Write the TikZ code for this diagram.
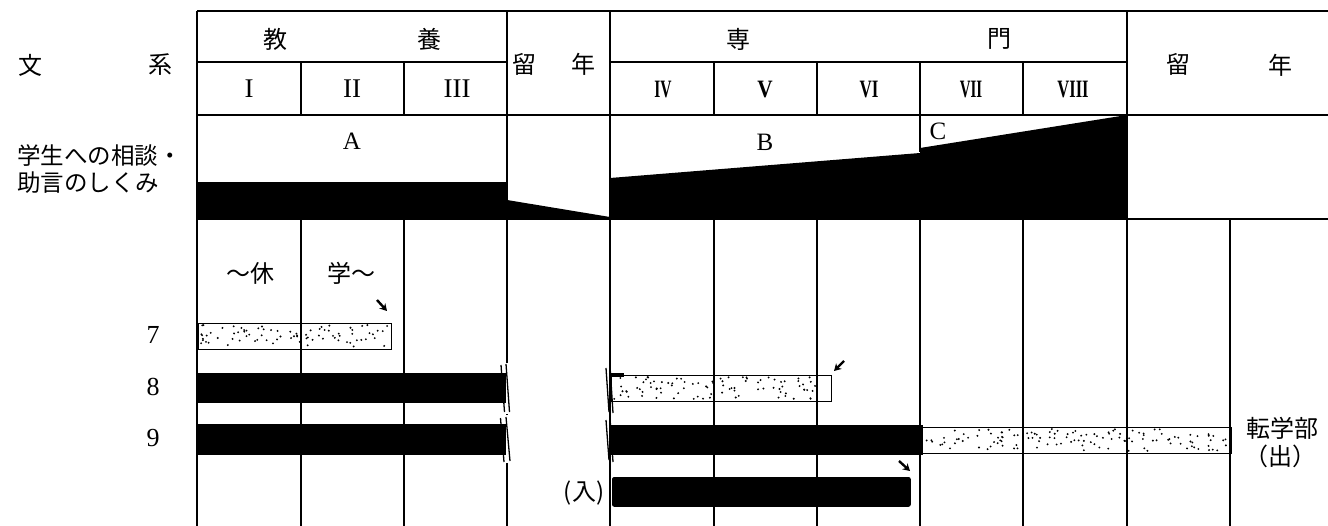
\documentclass[tikz,border=0pt]{standalone}
\usepackage{fontspec}
\setmainfont{Liberation Serif}
\newfontfamily\jp{Noto Sans CJK JP}
\usetikzlibrary{arrows.meta}
\newcommand\speckle[5]{\foreach \k in {1,...,#5}{\fill ({#1+2+rnd*(#3-#1-4)},{#2+2+rnd*(#4-#2-4)}) circle (1.05);}}
\begin{document}
\begin{tikzpicture}[x=1pt,y=-1pt,
 gridline/.style={line width=1.1pt},
 jptext/.style={font=\jp\fontsize{24}{26}\selectfont, inner sep=0pt},
 lbl/.style={font=\jp\fontsize{23.5}{26}\selectfont, inner sep=0pt, anchor=west},
 roman/.style={font=\fontsize{27}{28}\selectfont, inner sep=0pt},
 romanb/.style={font=\fontsize{25}{26}\selectfont\bfseries, inner sep=0pt},
 letter/.style={font=\fontsize{25}{26}\selectfont, inner sep=0pt},
 num/.style={font=\fontsize{26}{27}\selectfont, inner sep=0pt},
 blackbar/.style={fill=black, draw=black, line width=0.8pt, inner sep=0pt, anchor=north west},
 dotbar/.style={draw=black, line width=1.1pt, inner sep=0pt, anchor=north west},
 brk/.style={line width=1.3pt},
 pointer/.style={line width=2.4pt, -{Stealth[length=7pt,width=8pt]}}
]
\useasboundingbox (0,0) rectangle (1328,526);
\pgfmathsetseed{11}

% ---------- dotted bars (under grid) ----------
\node[dotbar, minimum width=193, minimum height=26] (bar7) at (198,323) {};
\speckle{198}{323}{391}{349}{80}
\node[dotbar, minimum width=220, minimum height=26] (bar8r) at (611,375) {};
\speckle{611}{375}{831}{401}{90}
\node[dotbar, minimum width=309, minimum height=26] (bar9r) at (922,427) {};
\speckle{922}{427}{1231}{453}{125}

% ---------- grid ----------
\draw[gridline] (197,11) -- (1328,11);
\draw[gridline] (197,62) -- (507,62);
\draw[gridline] (610,62) -- (1127,62);
\draw[gridline] (197,115) -- (1328,115);
\draw[gridline] (197,219) -- (1328,219);
\foreach \x in {197,507,610,1127} \draw[gridline] (\x,11) -- (\x,526);
\foreach \x in {301,404,714,817,1023} {\draw[gridline] (\x,62) -- (\x,115); \draw[gridline] (\x,219) -- (\x,526);}
\draw[gridline] (920,62) -- (920,152);
\draw[gridline] (920,219) -- (920,526);
\draw[gridline] (1230,219) -- (1230,526);

% ---------- counselling band ----------
\fill (197,182) -- (507,182) -- (507,220) -- (197,220) -- cycle;
\fill (507,200) -- (610,217) -- (610,220) -- (507,220) -- cycle;
\fill (610,178) -- (920,153) -- (920,148) -- (1127,115) -- (1127,220) -- (610,220) -- cycle;

% ---------- black bars ----------
\node[blackbar, minimum width=308, minimum height=29] (bar8l) at (197,373) {};
\node[blackbar, minimum width=308, minimum height=30] (bar9l) at (197,424) {};
\node[blackbar, minimum width=312, minimum height=29] (bar9m) at (610,425) {};
\node[blackbar, minimum width=298, minimum height=29, rounded corners=2pt] (bar10) at (612,477) {};
\fill (611,373.5) rectangle (624,377);

% ---------- break marks ----------
\fill[white] (505.8,363) rectangle (511,414);
\draw[brk] (501,365) -- (504.5,412);
\draw[brk] (506,364) -- (509.5,412);
\fill[white] (505.8,415) rectangle (511,463);
\draw[brk] (500.5,418) -- (504,462);
\draw[brk] (506,417) -- (510,461);
\fill[white] (603,366) rectangle (609.4,414);
\draw[brk] (606,368) -- (609,412);
\draw[brk] (610,366) -- (613,413);
\fill[white] (603,417) rectangle (609.4,463);
\draw[brk] (606,420) -- (609,460);
\draw[brk] (610,418) -- (613,462);

% ---------- small arrows ----------
\coordinate (a7s) at (377,300); \coordinate (a7e) at (387,311);
\coordinate (a8s) at (844,361); \coordinate (a8e) at (834,371);
\coordinate (a10s) at (899,461); \coordinate (a10e) at (910,471);
\draw[pointer] (a7s) -- (a7e);
\draw[pointer] (a8s) -- (a8e);
\draw[pointer] (a10s) -- (a10e);

% ---------- header texts ----------
\node[jptext] (bun) at (30,65) {文};
\node[jptext] (kei) at (160,65) {系};
\node[jptext] (kyo) at (275,39) {教};
\node[jptext] (yo) at (429,39) {養};
\node[jptext] (ryu1) at (524,64) {留};
\node[jptext] (nen1) at (583,64) {年};
\node[jptext] (sen) at (738,39) {専};
\node[jptext] (mon) at (999,39) {門};
\node[jptext] (ryu2) at (1178,64) {留};
\node[jptext] (nen2) at (1280,65) {年};

\node[roman] (r1) at (249,89) {I};
\node[roman] (r2) at (352,89) {II};
\node[roman] (r3) at (457,89) {III};
\node[romanb] (r4) at (663,90) {\scalebox{0.62}[1]{IV}};
\node[romanb] (r5) at (765,90) {\scalebox{0.85}[1]{V}};
\node[romanb] (r6) at (869,90) {\scalebox{0.68}[1]{VI}};
\node[romanb] (r7) at (971,90) {\scalebox{0.6}[1]{VII}};
\node[romanb] (r8) at (1073,90) {\scalebox{0.66}[1]{VIII}};

\node[letter] (la) at (352,141.5) {A};
\node[letter] (lb) at (765,142) {B};
\node[letter] (lc) at (938,131) {C};

\node[lbl] (lab1) at (17,156) {学生への相談・};
\node[lbl] (lab2) at (17,183) {助言のしくみ};

% ---------- lower texts ----------
\node[jptext] (kyu) at (250,273) {～休};
\node[jptext] (gaku) at (351,273) {学～};
\node[num] (n7) at (153,335) {7};
\node[num] (n8) at (153,387) {8};
\node[num] (n9) at (153,438) {9};
\node[jptext] (iri) at (584,493) {(入)};
\node[jptext] (ten) at (1282,428) {転学部};
\node[jptext] (de) at (1280,456) {（出）};
\end{tikzpicture}
\end{document}
